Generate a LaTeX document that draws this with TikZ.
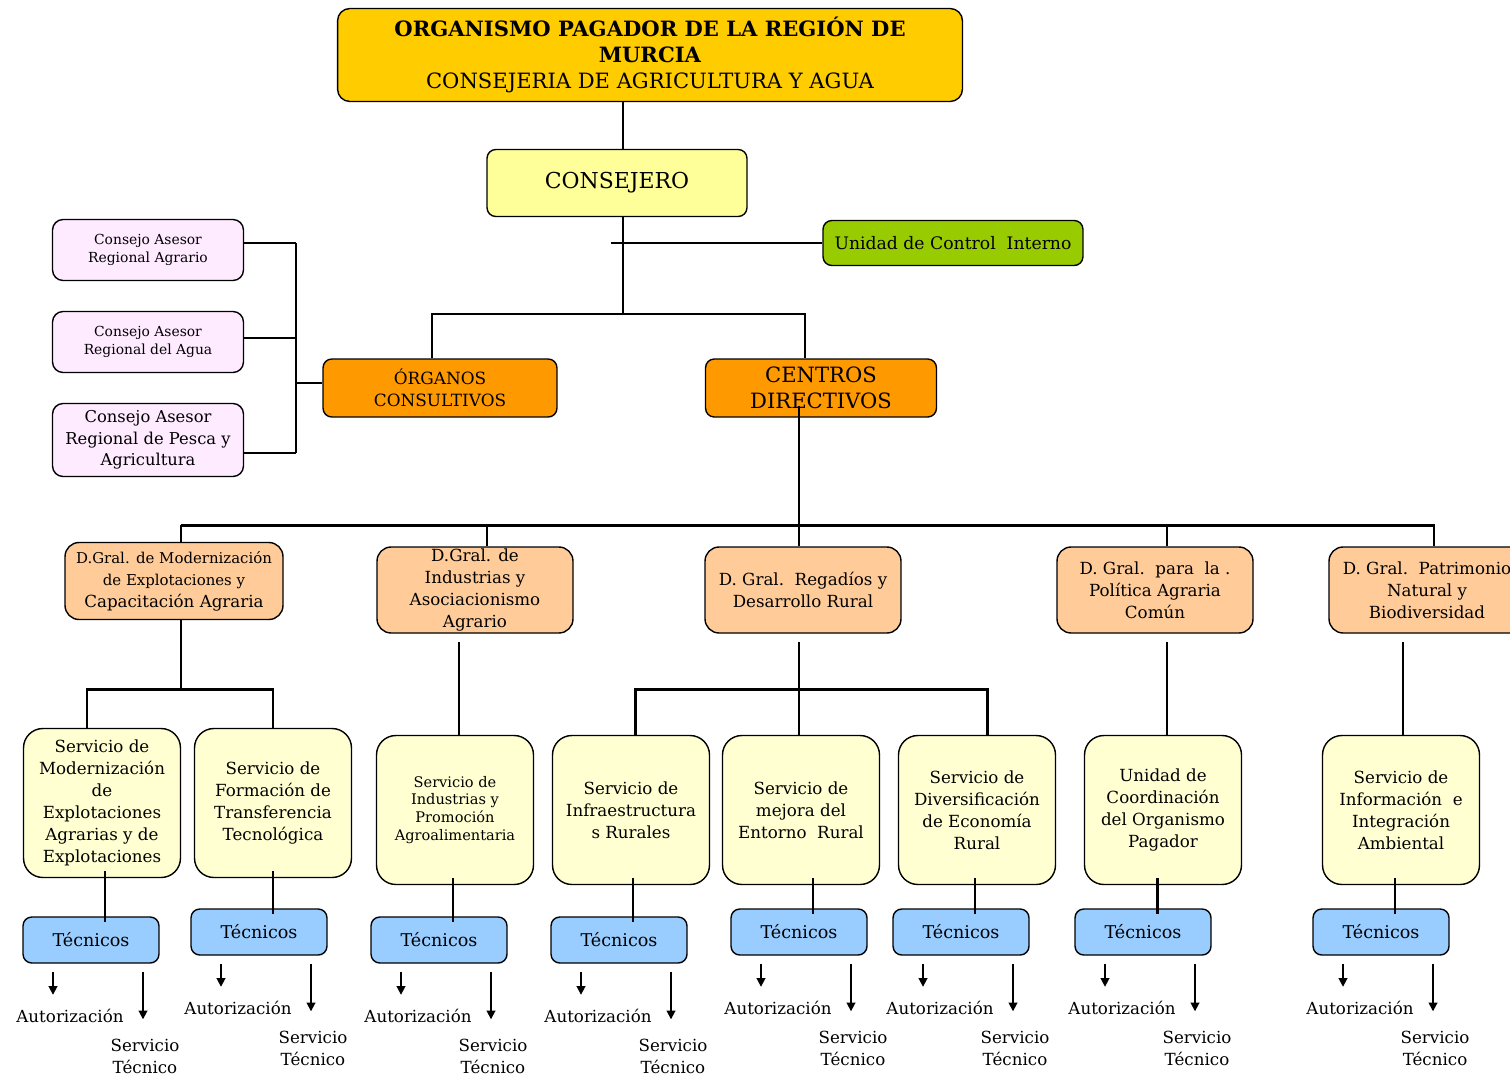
\documentclass[tikz,border=0pt]{standalone}
\usepackage{fontspec}
\setmainfont{DejaVu Serif}
\usetikzlibrary{positioning, calc, arrows.meta}
\definecolor{oroTitulo}{HTML}{FFCC00}
\definecolor{amarilloClaro}{HTML}{FFFF99}
\definecolor{verdeControl}{HTML}{99CC00}
\definecolor{rosaAsesor}{HTML}{FFEBFF}
\definecolor{naranja}{HTML}{FF9900}
\definecolor{salmon}{HTML}{FFCC99}
\definecolor{cremaServicio}{HTML}{FFFFD2}
\definecolor{azulTecnicos}{HTML}{99CCFF}

\begin{document}
\begin{tikzpicture}[
  x=0.02cm, y=-0.02cm,
  caja/.style={draw, line width=0.8pt, align=center, inner sep=1pt},
  cajatitulo/.style={caja, rounded corners=7pt, fill=oroTitulo, minimum width=12.5cm, minimum height=1.86cm, font=\fontsize{12}{15}\selectfont},
  cajaconsejero/.style={caja, rounded corners=5pt, fill=amarilloClaro, minimum width=5.2cm, minimum height=1.34cm, font=\fontsize{12.5}{15}\selectfont},
  cajacontrol/.style={caja, rounded corners=5pt, fill=verdeControl, minimum width=5.2cm, minimum height=0.9cm, font=\fontsize{9.8}{12}\selectfont},
  cajaasesor/.style={caja, rounded corners=6pt, fill=rosaAsesor, minimum width=3.82cm, minimum height=1.22cm, font=\fontsize{7.9}{10}\selectfont},
  cajanaranja/.style={caja, rounded corners=5pt, fill=naranja, minimum height=1.16cm},
  cajadg/.style={caja, rounded corners=8pt, fill=salmon, minimum width=3.92cm, minimum height=1.72cm, font=\fontsize{9.5}{12.5}\selectfont},
  cajaservicio/.style={caja, rounded corners=11pt, fill=cremaServicio, minimum width=3.14cm, minimum height=2.98cm, font=\fontsize{9.5}{12.5}\selectfont},
  cajatecnicos/.style={caja, rounded corners=5pt, fill=azulTecnicos, minimum width=2.72cm, minimum height=0.92cm, font=\fontsize{10}{12}\selectfont},
  etiqueta/.style={align=center, inner sep=1pt, font=\fontsize{9.5}{12.5}\selectfont},
  conn/.style={line width=1pt},
  connfuerte/.style={line width=1.7pt},
  flecha/.style={line width=1pt, -{Triangle[length=5pt, width=5pt]}},
]
  \useasboundingbox (0,0) rectangle (1510,1075);
  \clip (0,0) rectangle (1510,1075);

  % Cabecera
  \node (titulo) [cajatitulo] at (650,55) {\textbf{ORGANISMO PAGADOR DE LA REGIÓN DE}\\\textbf{MURCIA}\\CONSEJERIA DE AGRICULTURA Y AGUA};
  \node (consejero) [cajaconsejero] at (617,183) {CONSEJERO};
  \node (control) [cajacontrol] at (953,243) {Unidad de Control~~Interno};

  % Organos consultivos
  \node (asesor1) [cajaasesor] at (148,250) {Consejo Asesor\\Regional Agrario};
  \node (asesor2) [cajaasesor] at (148,342) {Consejo Asesor\\Regional del Agua};
  \node (asesor3) [cajaasesor, minimum height=1.46cm, font=\fontsize{9.3}{12.2}\selectfont] at (148,440) {Consejo Asesor\\Regional de Pesca y\\Agricultura};
  \node (organos) [cajanaranja, minimum width=4.68cm, font=\fontsize{9.6}{12.5}\selectfont] at (440,388) {ÓRGANOS\\CONSULTIVOS};
  \node (centros) [cajanaranja, minimum width=4.62cm, font=\fontsize{12}{14.5}\selectfont] at (821,388) {CENTROS\\DIRECTIVOS};

  % Direcciones generales
  \node (dg1) [cajadg, minimum width=4.36cm, minimum height=1.54cm] at (174,581) {{\fontsize{8.5}{12.5}\selectfont D.Gral. de Modernización}\\{\fontsize{8.5}{12.5}\selectfont de Explotaciones y}\\Capacitación Agraria};
  \node (dg2) [cajadg] at (475,590) {D.Gral. de\\Industrias y\\Asociacionismo\\Agrario};
  \node (dg3) [cajadg] at (803,590) {D. Gral.~~Regadíos y\\Desarrollo Rural};
  \node (dg4) [cajadg] at (1155,590) {D. Gral.~~para~~la~.\\Política Agraria\\Común};
  \node (dg5) [cajadg] at (1427,590) {D. Gral.~~Patrimonio\\Natural y\\Biodiversidad};

  % Servicios
  \node (srv1) [cajaservicio] at (102,803) {Servicio de\\Modernización\\de\\Explotaciones\\Agrarias y de\\Explotaciones};
  \node (srv2) [cajaservicio] at (273,803) {Servicio de\\Formación de\\Transferencia\\Tecnológica};
  \node (srv3) [cajaservicio, font=\fontsize{8.3}{10.2}\selectfont] at (455,810) {Servicio de\\Industrias y\\Promoción\\Agroalimentaria};
  \node (srv4) [cajaservicio] at (631,810) {Servicio de\\Infraestructura\\s Rurales};
  \node (srv5) [cajaservicio] at (801,810) {Servicio de\\mejora del\\Entorno~~Rural};
  \node (srv6) [cajaservicio] at (977,810) {Servicio de\\Diversificación\\de Economía\\Rural};
  \node (srv7) [cajaservicio] at (1163,810) {Unidad de\\Coordinación\\del Organismo\\Pagador};
  \node (srv8) [cajaservicio] at (1401,810) {Servicio de\\Información~~e\\Integración\\Ambiental};

  % Tecnicos
  \node (tec1) [cajatecnicos] at (91,940) {Técnicos};
  \node (tec2) [cajatecnicos] at (259,932) {Técnicos};
  \node (tec3) [cajatecnicos] at (439,940) {Técnicos};
  \node (tec4) [cajatecnicos] at (619,940) {Técnicos};
  \node (tec5) [cajatecnicos] at (799,932) {Técnicos};
  \node (tec6) [cajatecnicos] at (961,932) {Técnicos};
  \node (tec7) [cajatecnicos] at (1143,932) {Técnicos};
  \node (tec8) [cajatecnicos] at (1381,932) {Técnicos};

  % Lineas de la cabecera
  \coordinate (nudo) at (623,314);
  \coordinate (nudoControl) at (611,243);
  \coordinate (nudoOrganos) at (432,314);
  \coordinate (nudoCentros) at (805,314);
  \draw [conn] (titulo.south -| nudo) -- (consejero.north -| nudo);
  \draw [conn] (consejero.south -| nudo) -- (nudo);
  \draw [conn] (nudoControl) -- (control.west);
  \draw [conn] (organos.north -| nudoOrganos) -- (nudoOrganos) -- (nudoCentros) -- (centros.north -| nudoCentros);

  % Consejos asesores
  \coordinate (bus) at (296,383);
  \foreach \i/\dy in {1/-7, 2/-4, 3/13} {
    \draw [conn] ($(asesor\i.east)+(0,\dy)$) -- ($(asesor\i.east -| bus)+(0,\dy)$);
  }
  \draw [conn] ($(asesor1.east -| bus)+(0,-7)$) -- ($(asesor3.east -| bus)+(0,13)$);
  \draw [conn] (bus) -- (organos.west |- bus);

  % Centros directivos a las direcciones generales
  \coordinate (barra) at (799,525);
  \coordinate (barraIzq) at (181,525);
  \coordinate (barraDer) at (1435,525);
  \draw [conn] ($(centros.south -| barra)+(0,-12)$) -- (barra);
  \draw [connfuerte] (barraIzq) -- (barraDer);
  \foreach \i/\x in {1/181, 2/487, 3/799, 4/1167, 5/1434} {
    \coordinate (caida\i) at (\x,525);
    \draw [conn] (caida\i) -- (caida\i |- dg\i.north);
  }

  % Direcciones generales a los servicios
  \coordinate (horca1) at (181,689);
  \coordinate (horca1L) at (87,689);
  \coordinate (horca1R) at (273,689);
  \draw [conn] (dg1.south -| horca1) -- (horca1);
  \draw [connfuerte] (horca1L |- srv1.north) -- (horca1L) -- (horca1R) -- (horca1R |- srv2.north);

  \coordinate (horca3) at (799,689);
  \coordinate (horca3L) at (635,689);
  \coordinate (horca3R) at (987,689);
  \draw [conn] ($(dg3.south -| horca3)+(0,8)$) -- (srv5.north -| horca3);
  \draw [connfuerte] (horca3L |- srv4.north) -- (horca3L) -- (horca3R) -- (horca3R |- srv6.north);

  \foreach \d/\s/\x in {2/3/459, 4/7/1167, 5/8/1403} {
    \coordinate (bajada\d) at (\x,689);
    \draw [conn] ($(dg\d.south -| bajada\d)+(0,8)$) -- (srv\s.north -| bajada\d);
  }

  % Servicios a tecnicos, con sus salidas
  \foreach \i/\grosor in {1/connfuerte, 2/connfuerte, 3/conn, 4/conn, 5/conn, 6/conn, 7/connfuerte, 8/conn} {
    \draw [\grosor] ($(srv\i.south -| tec\i.north)+(14,-7)$) -- ($(tec\i.north)+(14,6)$);
    \node (aut\i) [etiqueta] at ($(tec\i.south)+(-21,52)$) {Autorización};
    \node (serv\i) [etiqueta] at ($(tec\i.south)+(54,93)$) {Servicio\\Técnico};
    \draw [flecha] ($(tec\i.south)+(-38,8)$) -- ($(aut\i.north)+(-17,-12)$);
    \draw [flecha] ($(tec\i.south)+(52,8)$) -- ($(serv\i.north)+(-2,-18)$);
  }

\end{tikzpicture}
\end{document}
